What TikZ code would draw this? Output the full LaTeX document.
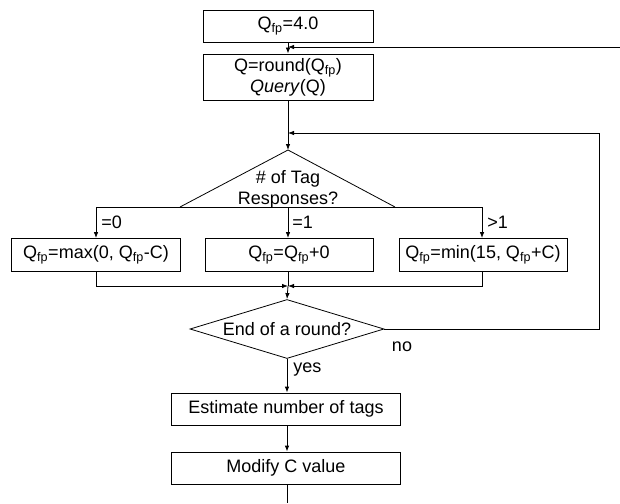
\documentclass[tikz,border=0pt]{standalone}
\usepackage{fontspec}
\setmainfont{Liberation Sans}
\usetikzlibrary{shapes.geometric,arrows.meta}
\begin{document}
\begin{tikzpicture}[x=1pt,y=-1pt,
  font=\fontsize{18}{21}\selectfont,
  line width=0.8pt,
  box/.style={draw, minimum height=32pt, inner sep=0pt, anchor=center},
  arr/.style={-{Latex[length=6pt,width=4.5pt]}},
  lbl/.style={inner sep=0pt, anchor=west}]

\useasboundingbox (0,0) rectangle (620,503);

% boxes
\node[box, minimum width=170pt, minimum height=32pt] (init) at (288,26) {Q\textsubscript{fp}=4.0};
\node[box, minimum width=170pt, minimum height=46pt, align=center] (query) at (288,77) {Q=round(Q\textsubscript{fp})\\\textit{Query}(Q)};

% first decision (triangle)
\coordinate (tt) at (288,150);
\coordinate (tl) at (180,207);
\coordinate (tr) at (395,207);
\draw (tl) -- (tt) -- (tr);
\node[align=center, inner sep=0pt] (dec1) at (288,189) {\# of Tag\\Responses?};

% branch boxes
\node[box, minimum width=169pt, minimum height=33pt] (boxL) at (96,255) {Q\textsubscript{fp}=max(0, Q\textsubscript{fp}-C)};
\node[box, minimum width=168pt, minimum height=33pt] (boxM) at (289,255) {Q\textsubscript{fp}=Q\textsubscript{fp}+0};
\node[box, minimum width=168pt, minimum height=33pt] (boxR) at (483,255) {Q\textsubscript{fp}=min(15, Q\textsubscript{fp}+C)};

% second decision
\node[draw, diamond, shape aspect=3.3, minimum width=194pt, minimum height=59pt, inner sep=0pt] (dec2) at (287,329) {End of a round?};

% final boxes
\node[box, minimum width=229pt, minimum height=32pt] (est) at (286,409) {Estimate number of tags};
\node[box, minimum width=229pt, minimum height=32pt] (mod) at (286,468) {Modify C value};

% coordinates
\coordinate (in1) at (620,47);
\coordinate (j1) at (288,47);
\coordinate (j2) at (288,133);
\coordinate (r2) at (599,133);
\coordinate (bl) at (96,207);
\coordinate (bm) at (288,207);
\coordinate (br) at (482,207);
\coordinate (m) at (288,286);
\coordinate (out) at (287,503);

% connectors
\draw[arr] (init) -- (query);
\draw[arr] (in1) -- (j1);
\draw[arr] (query) -- (tt);
\draw[arr] (dec2.east) -| (r2) -- (j2);
\draw (bl) -- (br);
\draw[arr] (bl) -- (bl |- boxL.north);
\draw[arr] (bm) -- (bm |- boxM.north);
\draw[arr] (br) -- (br |- boxR.north);
\draw[arr] (boxL.south) |- (m);
\draw[arr] (br |- boxR.south) |- (m);
\draw (m |- boxM.south) -- (m);
\draw[arr] (m) -- (dec2.north);
\draw[arr] (dec2.south) -- (dec2.south |- est.north);
\draw[arr] (dec2.south |- est.south) -- (dec2.south |- mod.north);
\draw (dec2.south |- mod.south) -- (out);

% labels
\node[lbl] (l0) at (101,222) {=0};
\node[lbl] (l1) at (292,222) {=1};
\node[lbl] (l2) at (487,222) {>1};
\node (lno) at (402,347) {no};
\node[lbl] (lyes) at (293,370) {yes};
\end{tikzpicture}
\end{document}
